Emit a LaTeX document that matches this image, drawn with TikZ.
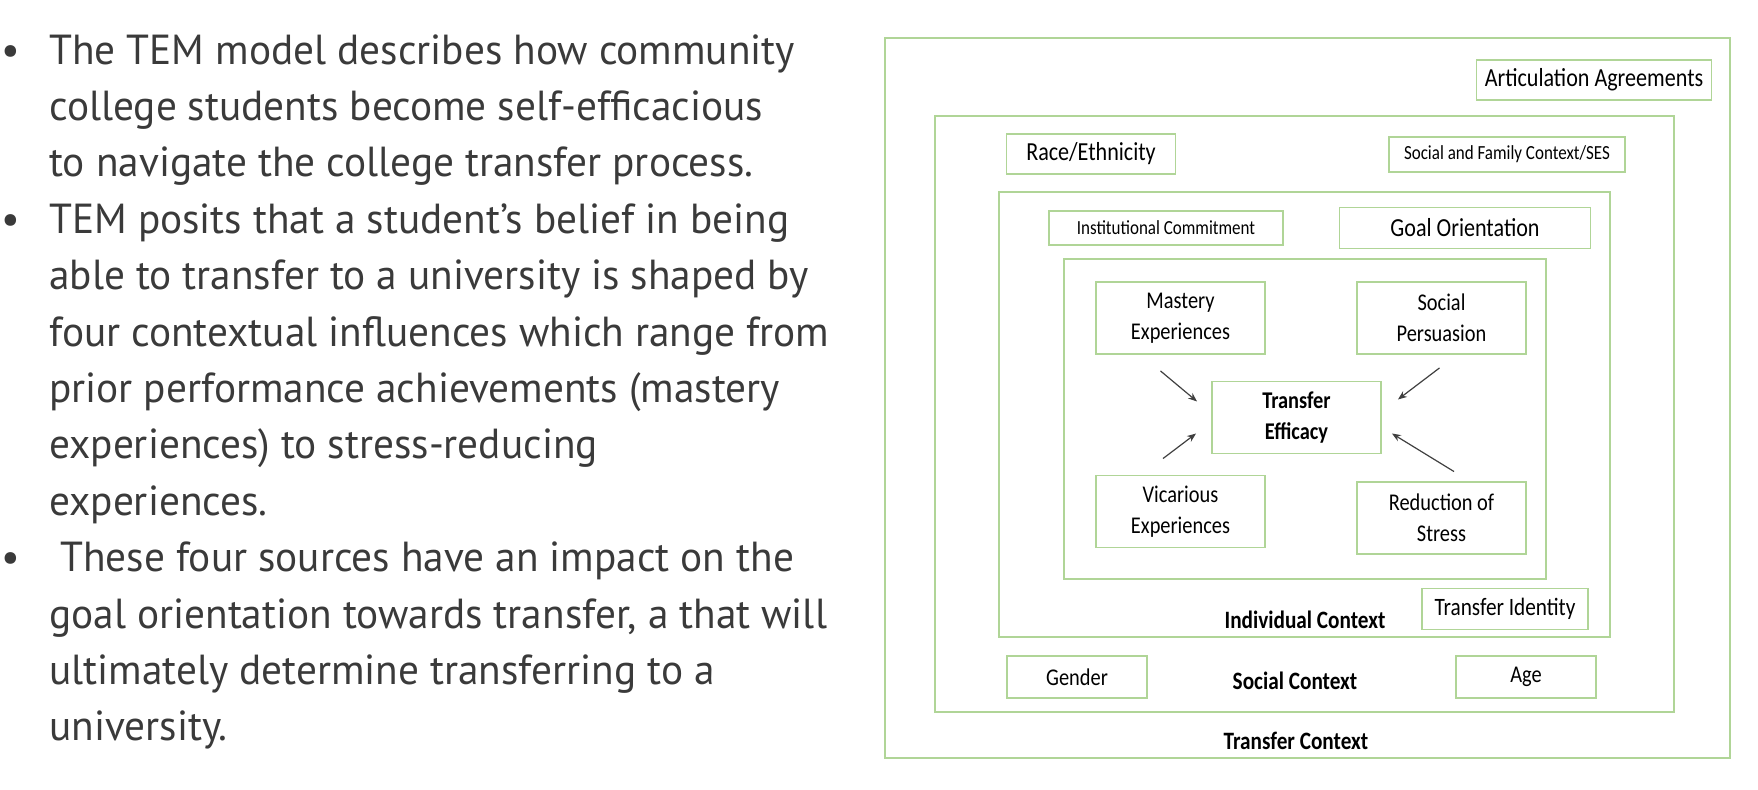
\documentclass[tikz,border=0pt]{standalone}
\usepackage{fontspec}
\setmainfont{PT Sans}[FakeStretch=0.983]
\newfontfamily\diagfont[FakeStretch=0.85]{Carlito}
\usepackage{xcolor}
\usepackage{tikz}
\usetikzlibrary{arrows.meta,calc}
\definecolor{boxgreen}{HTML}{B0D597}
\definecolor{bodytext}{HTML}{3A3A3A}
\tikzset{
    % bullet text styles
    item/.style={anchor=north west, inner sep=0pt, align=left, text=bodytext, font=\fontsize{21}{28.2}\selectfont},
    bulletdot/.style={anchor=base, inner sep=0pt, text=bodytext, font=\fontsize{21}{28.2}\selectfont},
    % model styles
    ctxframe/.style={draw=boxgreen, line width=0.95pt},
    factor/.style={draw=boxgreen, line width=0.95pt, inner sep=0pt, align=center, font=\diagfont\fontsize{12}{15.3}\selectfont},
    bigfactor/.style={factor, font=\diagfont\fontsize{13}{15}\selectfont},
    smallfactor/.style={factor, font=\diagfont\fontsize{10}{12}\selectfont},
    source/.style={factor, minimum width=84.5pt, minimum height=36pt, font=\diagfont\fontsize{12}{15.3}\selectfont},
    ctxlabel/.style={inner sep=0pt, font=\diagfont\bfseries\fontsize{12.5}{15}\selectfont},
    influence/.style={-{Stealth[length=4.5pt, width=3.5pt]}, line width=0.6pt, draw=black!75}
}
\begin{document}
\begin{tikzpicture}[x=0.5pt, y=-0.5pt]
    \useasboundingbox (0,0) rectangle (1758,790);

    % Text on the left
    \node[bulletdot] (dot1) at (11,64.3) {•};
    \node[item] (item1) at (49,34) {The TEM model describes how community\\
        college students become self-efficacious\\
        to navigate the college transfer process.};
    \node[bulletdot] (dot2) at (11,233.5) {•};
    \node[item] (item2) at (49,203.2) {TEM posits that a student's belief in being\\
        able to transfer to a university is shaped by\\
        four contextual influences which range from\\
        prior performance achievements (mastery\\
        experiences) to stress-reducing\\
        experiences.};
    \node[bulletdot] (dot3) at (11,571.9) {•};
    \node[item] (item3) at (49,541.6) {\ These four sources have an impact on the\\
        goal orientation towards transfer, a that will\\
        ultimately determine transferring to a\\
        university.};

    % Nested context frames
    \draw[ctxframe] (885,38) rectangle (1730,758);
    \draw[ctxframe] (935,116) rectangle (1674,712);
    \draw[ctxframe] (999,192) rectangle (1610,637);
    \draw[ctxframe] (1064,259) rectangle (1546,579);

    % Transfer context
    \node[bigfactor, minimum width=117.5pt, minimum height=20.3pt] (artic) at (1594,80) {\raisebox{-1pt}{Articulation Agreements}};
    \node[ctxlabel] (transctx) at (1296,740.5) {Transfer Context};

    % Social context
    \node[bigfactor, minimum width=84.5pt, minimum height=20.3pt] (race) at (1091,154) {Race/Ethnicity};
    \node[smallfactor, minimum width=117.8pt, minimum height=17.2pt] (family) at (1507,154.5) {Social and Family Context/SES};
    \node[factor, minimum width=70pt, minimum height=20.7pt] (gender) at (1077,677) {Gender};
    \node[factor, minimum width=70pt, minimum height=20.7pt] (age) at (1526,677) {\raisebox{-1pt}{Age}};
    \node[ctxlabel] (socctx) at (1295,681) {Social Context};

    % Individual context
    \node[smallfactor, minimum width=117.4pt, minimum height=17.3pt] (commit) at (1166,228) {Institutional Commitment};
    \node[bigfactor, minimum width=125.5pt, minimum height=20.5pt] (goal) at (1465,228) {Goal Orientation};
    \node[factor, minimum width=82.8pt, minimum height=20.5pt, font=\diagfont\fontsize{12.5}{15}\selectfont] (identity) at (1505,609) {Transfer Identity};
    \node[ctxlabel] (indctx) at (1305,619.5) {Individual Context};

    % Four sources and transfer efficacy
    \node[source] (mastery) at (1180.5,318) {Mastery\\Experiences};
    \node[source] (persuasion) at (1441.5,318) {Social\\Persuasion};
    \node[source, font=\diagfont\bfseries\fontsize{12}{15.3}\selectfont] (efficacy) at (1296.5,417.5) {Transfer\\Efficacy};
    \node[source] (vicarious) at (1180.5,511.5) {Vicarious\\Experiences};
    \node[source] (stress) at (1441.5,518) {Reduction of\\Stress};

    % Arrows into efficacy
    \draw[influence] ($(mastery.south)+(-20,16)$) -- ($(efficacy.west)+(-14,-16)$);
    \draw[influence] ($(persuasion.south)+(-2,13)$) -- ($(efficacy.east)+(16,-18)$);
    \draw[influence] ($(vicarious.north)+(-17.5,-16)$) -- ($(efficacy.west)+(-15,16)$);
    \draw[influence] ($(stress.north)+(12.5,-9.5)$) -- ($(efficacy.east)+(10,16)$);
\end{tikzpicture}
\end{document}
